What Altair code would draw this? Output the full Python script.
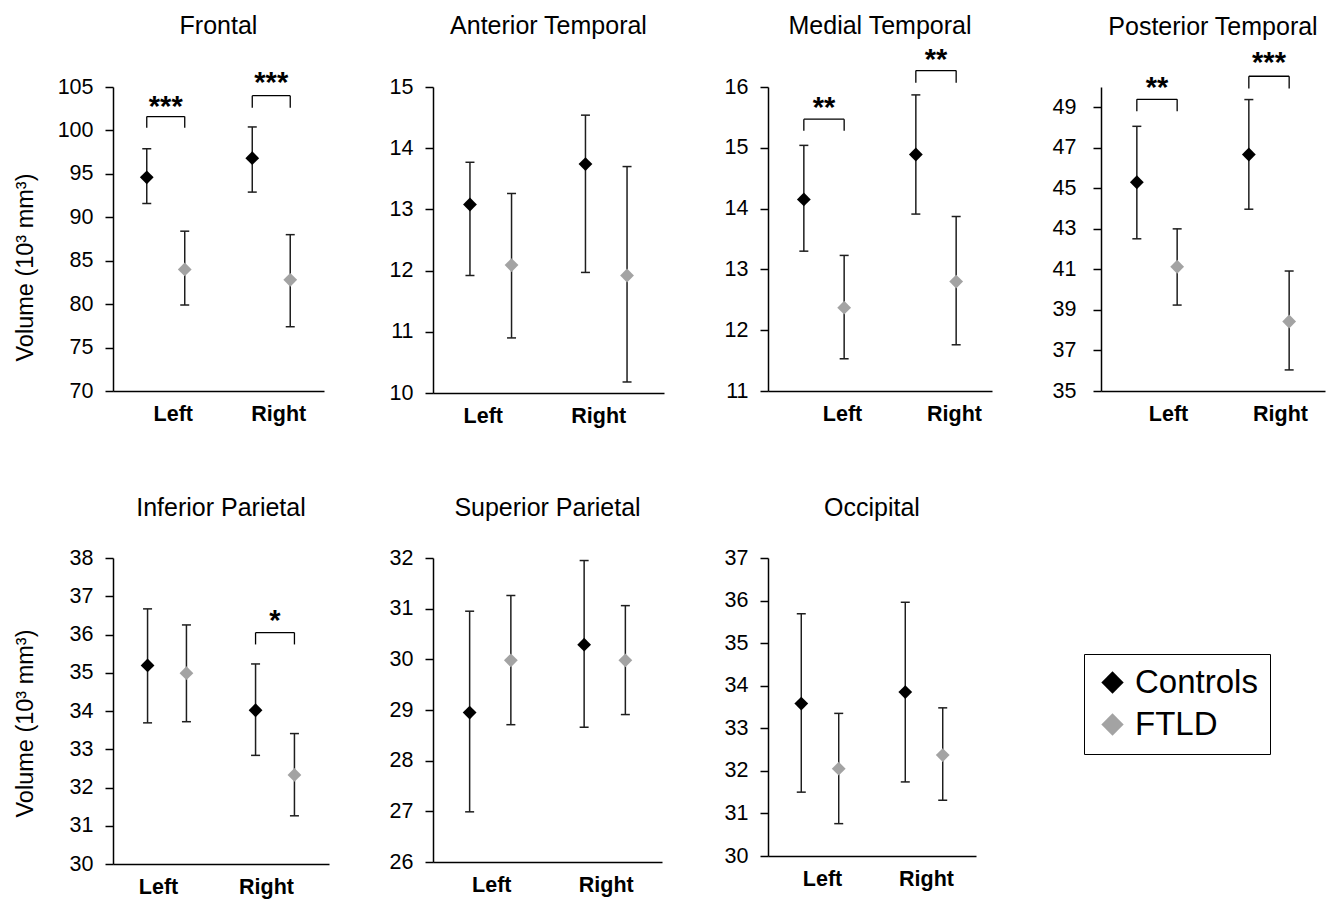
import json
import altair as alt
import pandas as pd

# ---------------- data ----------------
regions = ["Frontal", "Anterior Temporal", "Medial Temporal", "Posterior Temporal",
           "Inferior Parietal", "Superior Parietal", "Occipital"]
sides = ["Left", "Right"]
groups = ["Controls", "FTLD"]

# values per region as [Left, Right]
controls_mean = [[94.6, 96.8], [13.08, 13.74], [14.15, 14.89], [45.30, 46.67],
                 [35.19, 34.02], [28.95, 30.29], [33.58, 33.85]]
controls_low = [[91.6, 92.9], [11.92, 11.97], [13.30, 13.91], [42.51, 43.97],
                [33.69, 32.84], [26.99, 28.66], [31.50, 31.74]]
controls_high = [[97.9, 100.4], [13.77, 14.54], [15.04, 15.87], [48.06, 49.38],
                 [36.67, 35.23], [30.95, 31.95], [35.69, 35.96]]
ftld_mean = [[84.0, 82.8], [12.09, 11.92], [12.37, 12.80], [41.13, 38.43],
             [34.99, 32.33], [29.98, 29.98], [32.05, 32.37]]
ftld_low = [[79.9, 77.4], [10.90, 10.18], [11.53, 11.76], [39.24, 36.04],
            [33.72, 31.26], [28.71, 28.91], [30.76, 31.31]]
ftld_high = [[88.4, 88.0], [13.26, 13.70], [13.23, 13.87], [43.00, 40.92],
             [36.25, 33.41], [31.26, 31.06], [33.35, 33.48]]

y_min = [70, 10, 11, 35, 30, 26, 30]
y_max = [105, 15, 16, 50, 38, 32, 37]
y_top_tick = [105, 15, 16, 49, 38, 32, 37]
y_step = [5, 1, 1, 2, 1, 1, 1]

sig_region = ["Frontal", "Frontal", "Medial Temporal", "Medial Temporal",
              "Posterior Temporal", "Posterior Temporal", "Inferior Parietal"]
sig_side = ["Left", "Right", "Left", "Right", "Left", "Right", "Right"]
sig_top = [101.6, 104.0, 15.47, 16.27, 49.39, 50.53, 36.05]
sig_leg = [100.3, 102.6, 15.28, 16.07, 48.80, 49.92, 35.74]
sig_star = [102.9, 105.7, 15.69, 16.47, 50.03, 51.30, 36.41]
sig_label = ["***", "***", "**", "**", "**", "***", "*"]

Y_TITLE = "Volume (10³ mm³)"

# ---------------- styling / layout ----------------
panel_w = [211, 231, 224, 224, 216, 229, 208]
panel_h = [304, 306, 304, 304, 306, 304, 298]
x_label_offset = [7, -8, 18, 11, -9, 1, 2]
y_label_pad = [12, 12, 12, 17, 12, 12, 12]
title_offset = [30, 37, 7, 9, 26, 26, 26]
y_title_y = {0: 180, 4: 165}
FONT = "Liberation Sans"
DODGE = 0.18

rows = []
for i, r in enumerate(regions):
    for j, s in enumerate(sides):
        rows.append(dict(region=r, side=s, group=groups[0], mean=controls_mean[i][j],
                         low=controls_low[i][j], high=controls_high[i][j]))
        rows.append(dict(region=r, side=s, group=groups[1], mean=ftld_mean[i][j],
                         low=ftld_low[i][j], high=ftld_high[i][j]))
points = pd.DataFrame(rows)
brackets = pd.DataFrame(dict(region=sig_region, side=sig_side, top=sig_top,
                             leg=sig_leg, star=sig_star, label=sig_label))

SIDE_EXPR = f"indexof({json.dumps(sides)}, datum.side) + 1"
GROUP_EXPR = f"datum.group == '{groups[0]}' ? -{DODGE} : {DODGE}"
LABEL_EXPR = f"{json.dumps(sides)}[datum.value - 1]"
LEGEND_LABEL_EXPR = f"datum.value == '{groups[1]}' ? '\u2002' + datum.label : datum.label"

color_scale = alt.Scale(domain=groups, range=["#000000", "#a3a3a3"])
LEGEND = alt.Legend(title=None, orient="none", legendX=971, legendY=567,
                    direction="vertical", strokeColor="black", fillColor="white",
                    padding=12, symbolType="diamond", symbolSize=500, symbolOffset=0,
                    symbolStrokeWidth=0, labelFontSize=33, labelFont=FONT,
                    labelColor="black", labelOffset=6, rowPadding=8,
                    labelExpr=LEGEND_LABEL_EXPR)


def panel(i):
    r = regions[i]
    xscale = alt.Scale(domain=[0.5, 2.5], nice=False, zero=False)
    xaxis = alt.Axis(values=[1, 2], labelExpr=LABEL_EXPR, title=None, ticks=False,
                     grid=False, labelFlush=False, labelFontWeight="bold",
                     labelFontSize=21.5, labelPadding=12, labelOffset=x_label_offset[i],
                     labelAngle=0)
    yscale = alt.Scale(domain=[y_min[i], y_max[i]], nice=False, zero=False)
    yargs = dict(values=list(range(y_min[i], y_top_tick[i] + 1, y_step[i])),
                 grid=False, tickSize=8, labelPadding=y_label_pad[i], labelFontSize=21.5)
    if i in y_title_y:
        yargs.update(title=Y_TITLE, titleX=-88, titleY=y_title_y[i], titleAngle=270,
                     titleBaseline="middle", titleAlign="center", titleFontSize=23.5,
                     titleFontWeight="normal")
    else:
        yargs.update(title=None)
    yaxis = alt.Axis(**yargs)

    def X(f):
        return alt.X(f, scale=xscale, axis=xaxis)

    def Y(f):
        return alt.Y(f, scale=yscale, axis=yaxis)

    base = (alt.Chart(points)
            .transform_filter(alt.datum.region == r)
            .transform_calculate(xpos=f"({SIDE_EXPR}) + ({GROUP_EXPR})"))
    bars = base.mark_rule(color="#1e1e1e", strokeWidth=1.5).encode(
        x=X("xpos:Q"), y=Y("low:Q"), y2="high:Q")
    cap_lo = base.mark_tick(orient="horizontal", size=9, thickness=1.5,
                            color="#1e1e1e", opacity=1).encode(x=X("xpos:Q"), y=Y("low:Q"))
    cap_hi = base.mark_tick(orient="horizontal", size=9, thickness=1.5,
                            color="#1e1e1e", opacity=1).encode(x=X("xpos:Q"), y=Y("high:Q"))
    dots = base.mark_point(shape="diamond", filled=True, size=190, opacity=1).encode(
        x=X("xpos:Q"), y=Y("mean:Q"),
        color=alt.Color("group:N", scale=color_scale, legend=LEGEND))
    layers = [bars, cap_lo, cap_hi, dots]

    if r in sig_region:
        b = (alt.Chart(brackets)
             .transform_filter(alt.datum.region == r)
             .transform_calculate(c=SIDE_EXPR)
             .transform_calculate(xl=f"datum.c - {DODGE}", xr=f"datum.c + {DODGE}"))
        hline = b.mark_rule(color="black", strokeWidth=1.3).encode(
            x=X("xl:Q"), x2="xr:Q", y=Y("top:Q"))
        leg_l = b.mark_rule(color="black", strokeWidth=1.3).encode(
            x=X("xl:Q"), y=Y("leg:Q"), y2="top:Q")
        leg_r = b.mark_rule(color="black", strokeWidth=1.3).encode(
            x=X("xr:Q"), y=Y("leg:Q"), y2="top:Q")
        stars = b.mark_text(fontSize=29, fontWeight="bold", baseline="alphabetic",
                            dy=11, color="black", font=FONT).encode(
            x=X("c:Q"), y=Y("star:Q"), text="label:N")
        layers += [hline, leg_l, leg_r, stars]

    return alt.layer(*layers).properties(
        width=panel_w[i], height=panel_h[i],
        title=alt.TitleParams(r, offset=title_offset[i], fontSize=25,
                              fontWeight="normal", font=FONT, anchor="middle",
                              color="black"))


chart = alt.concat(*[panel(i) for i in range(len(regions))], columns=4,
                   spacing={"row": 69, "column": 60}, align="each")
chart = (chart
         .resolve_scale(color="shared")
         .resolve_legend(color="shared")
         .configure(font=FONT)
         .configure_view(stroke=None)
         .configure_axis(domainColor="black", domainWidth=1.5, tickColor="black",
                         tickWidth=1.5, labelColor="black", labelFont=FONT,
                         titleFont=FONT, titleColor="black"))

chart.save("out.html", embed_options={"renderer": "svg", "actions": False})
